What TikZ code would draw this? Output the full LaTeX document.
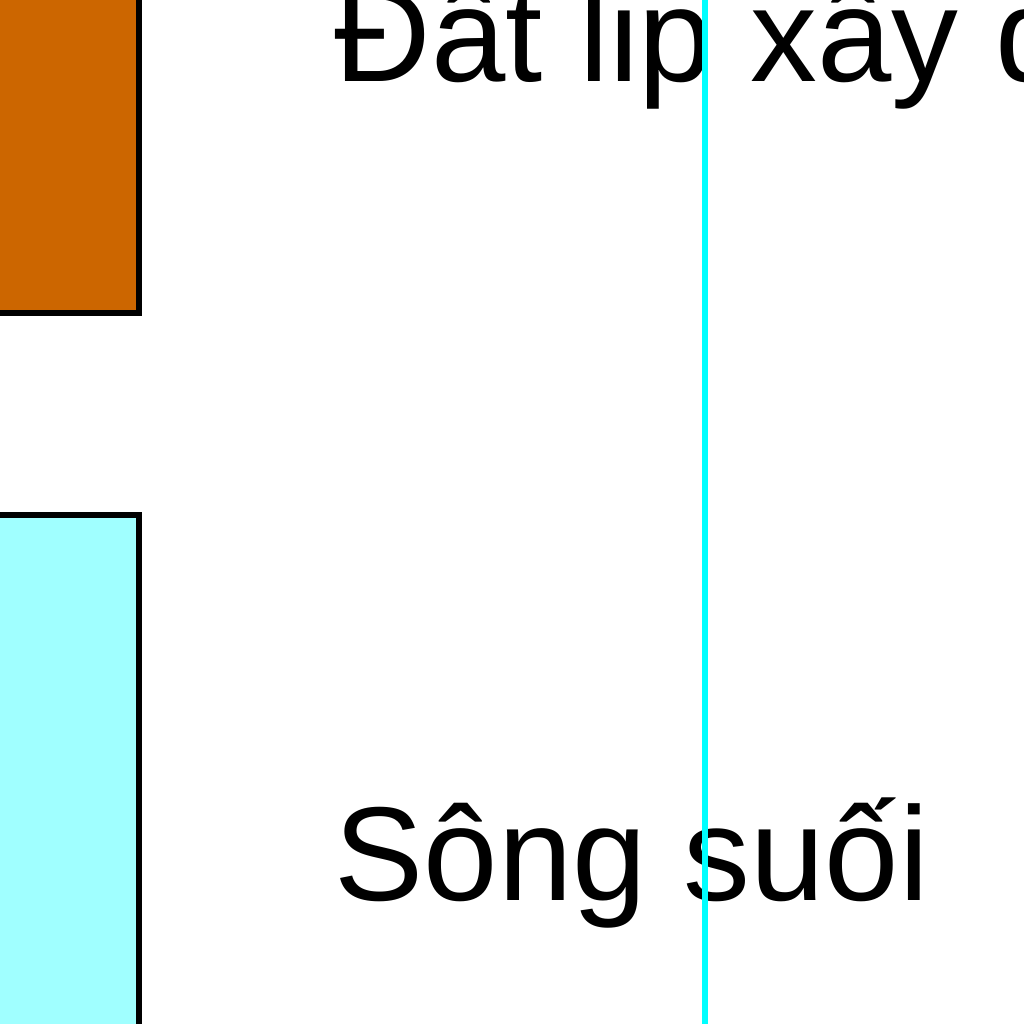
\documentclass[tikz,border=0pt]{standalone}
\usepackage{fontspec}
\setmainfont{Liberation Sans}
\usetikzlibrary{positioning}

\tikzset{
  legbox/.style={draw=black, line width=1.7pt, rectangle, inner sep=0pt,
    minimum width=2.39cm, minimum height=6cm},
  legtext/.style={anchor=base west, inner sep=0pt, text=black,
    font=\fontsize{38pt}{40pt}\selectfont}
}

\begin{document}
\begin{tikzpicture}[x={(0.01cm,0cm)}, y={(0cm,-0.01cm)}]
  \definecolor{landorange}{RGB}{204,102,0}
  \definecolor{riverfill}{RGB}{160,255,255}
  \definecolor{riverline}{RGB}{0,255,255}

  \useasboundingbox (0,0) rectangle (1024,1024);
  \clip (0,0) rectangle (1024,1024);

  % legend swatches
  \node[legbox, fill=landorange, anchor=south east] (fillbox) at (142,316) {};
  \node[legbox, fill=riverfill, anchor=north east] (riverbox) at (142,512) {};

  % legend labels
  \node[legtext] (filllabel) at (334,81) {Đất lip xây dựng};
  \node[legtext] (riverlabel) at (334,900) {Sông suối};

  % stream line across the legend
  \draw[riverline, line width=1.45pt] (705,-10) -- (705,1034);
\end{tikzpicture}
\end{document}
